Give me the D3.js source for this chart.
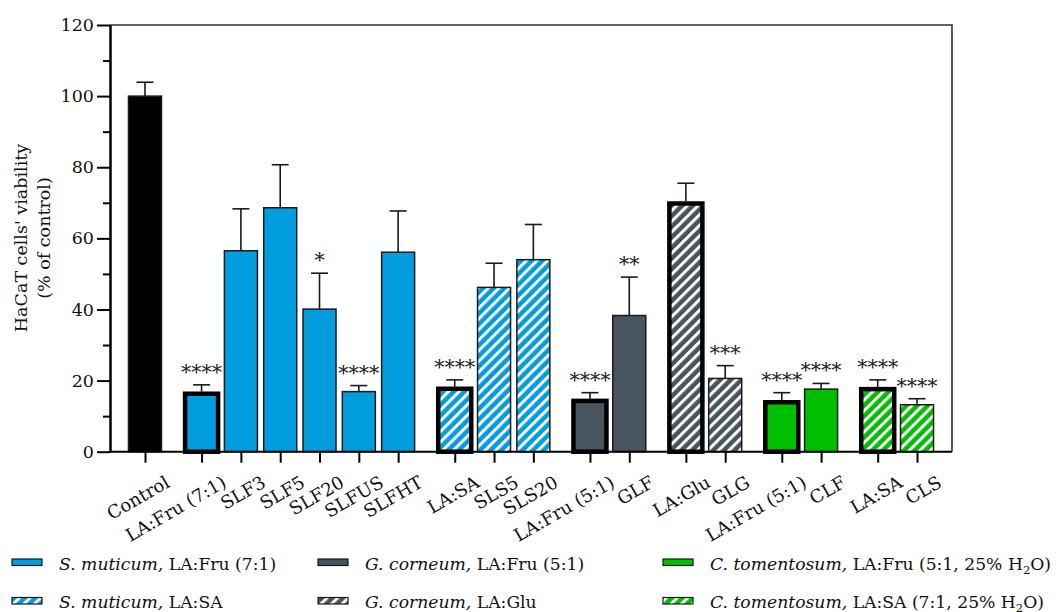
<html lang="en">
<head>
<meta charset="utf-8">
<title>HaCaT viability</title>
<style>
	body { margin: 0; background-color: white; }
	svg { font-family: "DejaVu Serif", serif; }
	.axis path, .axis line { fill: none; stroke: black; stroke-width: 2; }
	.axis text { font-size: 17.5px; fill: #111; font-family: "DejaVu Serif", serif; }
</style>
</head>
<body>
<script src="https://cdnjs.cloudflare.com/ajax/libs/d3/7.8.5/d3.min.js"></script>
<script>
// data
var categories = ["Control", "LA:Fru (7:1)", "SLF3", "SLF5", "SLF20", "SLFUS", "SLFHT",
	"LA:SA", "SLS5", "SLS20", "LA:Fru (5:1)", "GLF", "LA:Glu", "GLG",
	"LA:Fru (5:1)", "CLF", "LA:SA", "CLS"];
var groupOf = [0, 1, 1, 1, 1, 1, 1, 2, 2, 2, 3, 3, 4, 4, 5, 5, 6, 6];
var means = [100, 16.3, 56.5, 68.6, 40.1, 16.9, 56.1, 17.7, 46.2, 54.0, 14.3, 38.3, 69.8, 20.6, 13.9, 17.6, 17.6, 13.2];
var sds = [3.9, 2.5, 11.8, 12.1, 10.1, 1.7, 11.6, 2.5, 6.8, 9.9, 2.3, 10.8, 5.7, 3.6, 2.7, 1.6, 2.6, 1.7];
var stars = ["", "****", "", "", "*", "****", "", "****", "", "", "****", "**", "", "***", "****", "****", "****", "****"];
var thickBars = [0, 1, 0, 0, 0, 0, 0, 1, 0, 0, 1, 0, 1, 0, 1, 0, 1, 0];
var yTicks = [0, 20, 40, 60, 80, 100, 120];
var yMinorTicks = [10, 30, 50, 70, 90, 110];

var legendSpecies = ["S. muticum,", "G. corneum,", "C. tomentosum,", "S. muticum,", "G. corneum,", "C. tomentosum,"];
var legendRest = [" LA:Fru (7:1)", " LA:Fru (5:1)", " LA:Fru (5:1, 25% H", " LA:SA", " LA:Glu", " LA:SA (7:1, 25% H"];
var legendGroup = [1, 3, 5, 2, 4, 6];

// group look: fill colour and hatching
var groupColor = ["#000000", "#029DDF", "#029DDF", "#48545E", "#48545E", "#00BE00", "#00BE00"];
var groupHatched = [false, false, true, false, true, false, true];

var W = 1064, H = 612;
var plotL = 110, plotR = 952, plotT = 25, plotB = 451.7;
var gap = 0.44;

var svg = d3.select("body").append("svg")
	.attr("width", W)
	.attr("height", H);

// hatch patterns
var defs = svg.append("defs");
[1, 3, 5].forEach(function(g) {
	var p = defs.append("pattern")
		.attr("id", "hatch" + g)
		.attr("patternUnits", "userSpaceOnUse")
		.attr("width", 7.5).attr("height", 7.5)
		.attr("patternTransform", "rotate(45)");
	p.append("rect").attr("width", 7.5).attr("height", 7.5).attr("fill", groupColor[g]);
	p.append("rect").attr("width", 3).attr("height", 7.5).attr("fill", "white");
});
function fillFor(g) {
	if (groupHatched[g]) return "url(#hatch" + (g - 1) + ")";
	return groupColor[g];
}

// slot position with gaps between groups
var slots = categories.map(function(c, i) { return i + groupOf[i] * gap; });
var x = d3.scaleLinear().domain([-0.89, 20.53]).range([plotL, plotR]);
var y = d3.scaleLinear().domain([0, 120]).range([plotB, plotT]);
var barW = 33, capW = 17;

// frame top/right
svg.append("path")
	.attr("d", "M" + plotL + "," + plotT + "H" + plotR + "V" + plotB)
	.attr("fill", "none").attr("stroke", "#333").attr("stroke-width", 1.6);

// bars
var bars = svg.append("g");
categories.forEach(function(c, i) {
	var cx = x(slots[i]);
	var g = groupOf[i];
	bars.append("rect")
		.attr("x", cx - barW / 2)
		.attr("y", y(means[i]))
		.attr("width", barW)
		.attr("height", y(0) - y(means[i]))
		.attr("fill", fillFor(g))
		.attr("stroke", thickBars[i] ? "#000" : "#1a1a1a")
		.attr("stroke-width", thickBars[i] ? 4.5 : 1.5);

	// upper error bar
	var yTop = y(means[i] + sds[i]);
	bars.append("line")
		.attr("x1", cx).attr("x2", cx)
		.attr("y1", y(means[i]) - (thickBars[i] ? 2 : 0)).attr("y2", yTop)
		.attr("stroke", "#1a1a1a").attr("stroke-width", 1.6);
	bars.append("line")
		.attr("x1", cx - capW / 2).attr("x2", cx + capW / 2)
		.attr("y1", yTop).attr("y2", yTop)
		.attr("stroke", "#1a1a1a").attr("stroke-width", 1.6);

	if (stars[i]) {
		bars.append("text")
			.attr("x", cx).attr("y", yTop - 6)
			.attr("text-anchor", "middle")
			.attr("font-size", 20.5)
			.attr("fill", "#222")
			.text(stars[i]);
	}
});

// y axis
svg.append("g")
	.attr("class", "axis")
	.attr("transform", "translate(" + plotL + ",0)")
	.call(d3.axisLeft(y).tickValues(yTicks).tickSize(13).tickPadding(3).tickSizeOuter(0));
svg.append("g")
	.attr("class", "axis")
	.attr("transform", "translate(" + plotL + ",0)")
	.call(d3.axisLeft(y).tickValues(yMinorTicks).tickSize(7).tickFormat("").tickSizeOuter(0));

// x axis
var xAxis = svg.append("g")
	.attr("class", "axis")
	.attr("transform", "translate(0," + plotB + ")")
	.call(d3.axisBottom(x).tickValues(slots).tickSize(11).tickSizeOuter(0).tickFormat(""));
xAxis.select(".domain").attr("d", "M" + plotL + ",0H" + plotR);

svg.append("g").selectAll("text")
	.data(categories)
	.enter()
	.append("text")
	.attr("transform", function(d, i) {
		return "translate(" + (x(slots[i]) + 26) + "," + 486 + ") rotate(-30)";
	})
	.attr("text-anchor", "end")
	.attr("font-size", 18)
	.attr("fill", "#111")
	.text(function(d) { return d; });

// y label
var yl = svg.append("text")
	.attr("transform", "translate(26.5,238) rotate(-90)")
	.attr("text-anchor", "middle")
	.attr("font-size", 17.5)
	.attr("fill", "#111");
yl.append("tspan").attr("x", 0).attr("y", 0).text("HaCaT cells' viability");
yl.append("tspan").attr("x", 0).attr("y", 23).text("(% of control)");

// legend
var legX = [12, 318, 663];
var legSwatch = [559, 597.5];
var legBase = [570, 608];
legendSpecies.forEach(function(s, k) {
	var col = k % 3, row = Math.floor(k / 3);
	var g = legendGroup[k];
	svg.append("rect")
		.attr("x", legX[col]).attr("y", legSwatch[row])
		.attr("width", 30).attr("height", 6.5)
		.attr("fill", fillFor(g))
		.attr("stroke", "#1a1a1a").attr("stroke-width", 1.2);
	var t = svg.append("text")
		.attr("x", legX[col] + 47).attr("y", legBase[row])
		.attr("font-size", 17.2)
		.attr("fill", "#111");
	t.append("tspan").attr("font-style", "italic").text(s);
	t.append("tspan").text(legendRest[k]);
	if (col === 2) {
		t.append("tspan").attr("font-size", 11.5).attr("dy", 4).text("2");
		t.append("tspan").attr("dy", -4).text("O)");
	}
});
</script>
</body>
</html>
